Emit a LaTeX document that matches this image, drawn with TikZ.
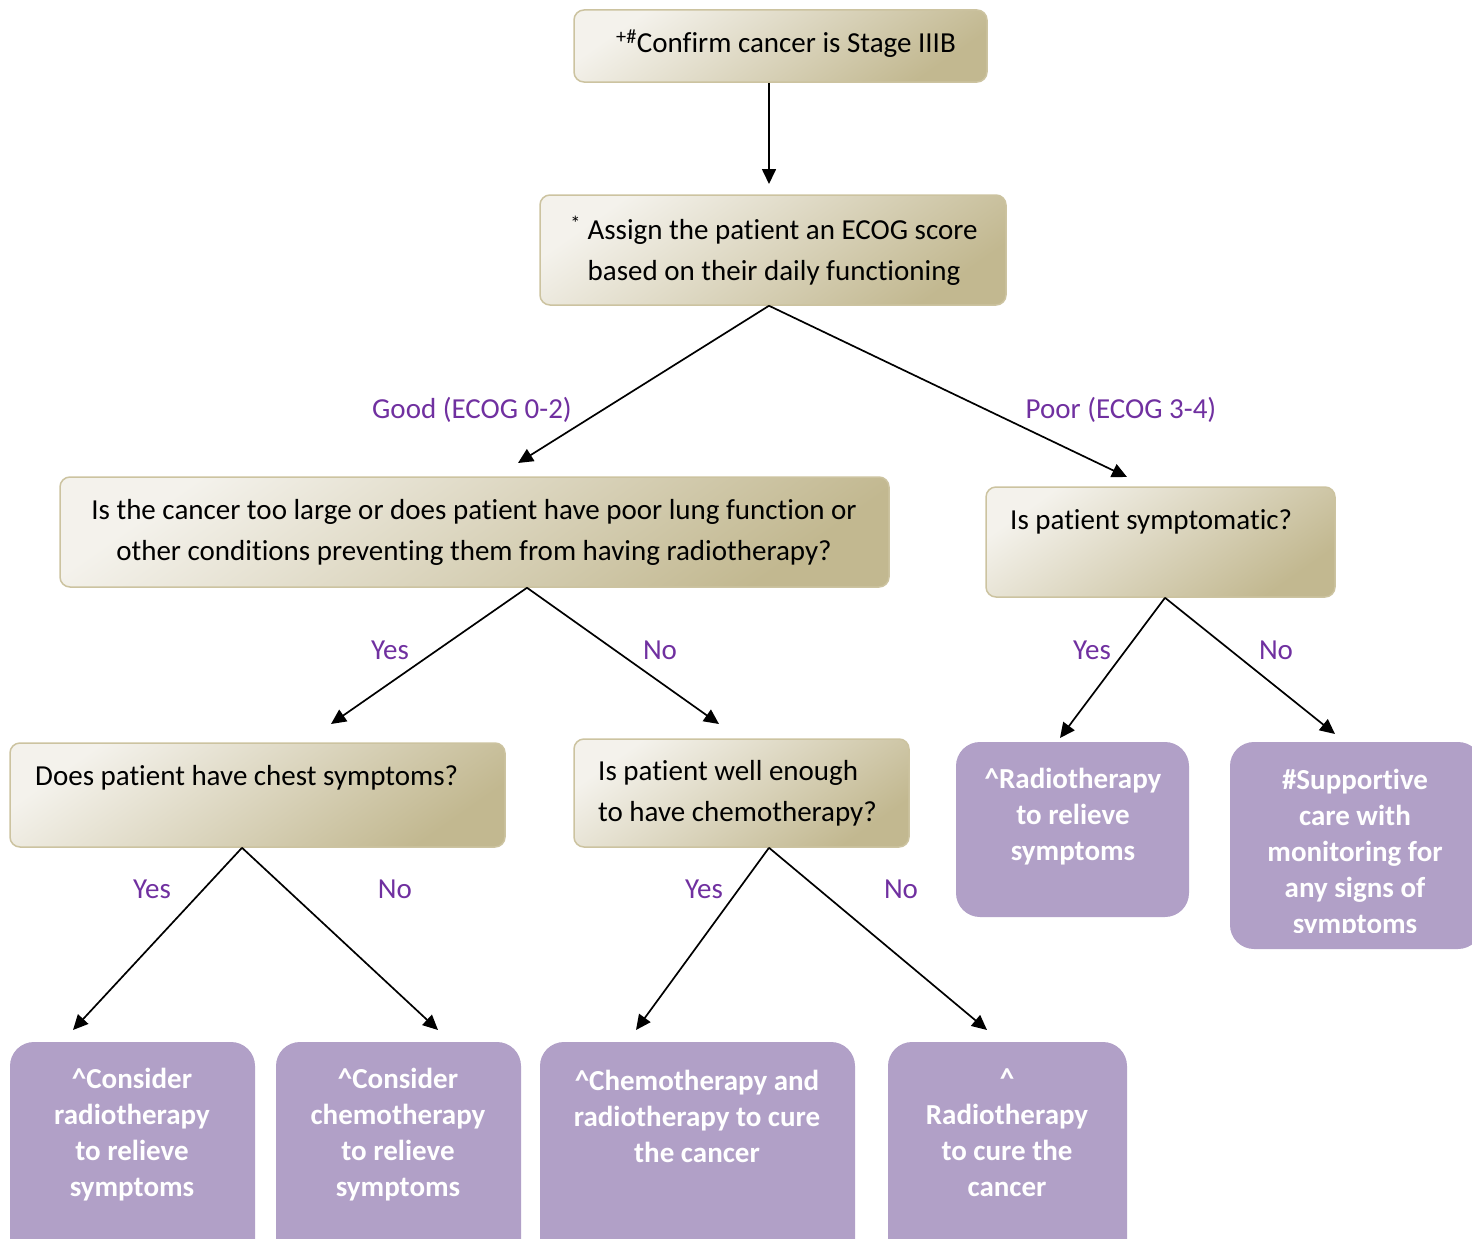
\documentclass[tikz,border=0pt]{standalone}
\usepackage{fontspec}
\setmainfont[Ligatures=NoCommon]{Carlito}
\usetikzlibrary{arrows.meta,calc}
\definecolor{bLight}{HTML}{F4F2EC}
\definecolor{bDark}{HTML}{C2B890}
\definecolor{bBorder}{HTML}{CCC3A0}
\definecolor{purp}{HTML}{B1A0C7}
\definecolor{labpurple}{HTML}{7030A0}
\tikzset{
  qbox/.style={draw=bBorder, line width=1.5pt, rounded corners=10pt,
    top color=bLight, bottom color=bDark, shading angle=35, inner sep=0pt},
  abox/.style={fill=purp, draw=none, rounded corners=24pt, inner sep=0pt},
  txt/.style={font=\fontsize{29}{41}\selectfont, inner sep=0pt, text=black},
  ptxt/.style={font=\fontsize{29}{36}\selectfont\bfseries, text=white, align=center, inner sep=0pt},
  lbl/.style={font=\fontsize{29}{41}\selectfont, text=labpurple, inner sep=0pt},
  conn/.style={line width=1.7pt, -{Triangle[length=15pt,width=14pt]}}
}
\begin{document}
\begin{tikzpicture}[x=1pt,y=-1pt]
\useasboundingbox (0,0) rectangle (1472,1239);

% question boxes
\node[qbox, minimum width=413pt, minimum height=72pt] (top) at (780.5,46) {};
\node[qbox, minimum width=466pt, minimum height=110pt] (ecog) at (773,250) {};
\node[qbox, minimum width=829pt, minimum height=110pt] (large) at (474.5,532) {};
\node[qbox, minimum width=349pt, minimum height=110pt] (symp) at (1160.5,542) {};
\node[qbox, minimum width=495pt, minimum height=104pt] (chest) at (257.5,795) {};
\node[qbox, minimum width=335pt, minimum height=108pt] (well) at (741.5,793) {};

% answer boxes
\node[abox, minimum width=233pt, minimum height=175pt] (rrel) at (1072.5,829.5) {};
\node[abox, minimum width=252pt, minimum height=207pt] (supp) at (1356,845.5) {};
\node[abox, minimum width=245pt, minimum height=228pt] (crad) at (132.5,1156) {};
\node[abox, minimum width=245pt, minimum height=228pt] (cchem) at (398.5,1156) {};
\node[abox, minimum width=315pt, minimum height=228pt] (chrad) at (697.5,1156) {};
\node[abox, minimum width=239pt, minimum height=228pt] (rcure) at (1007.5,1156) {};

% texts in question boxes
\node[txt] (ttop) at (786,44) {\textsuperscript{+\#}Confirm cancer is Stage IIIB};
\node[txt, align=center] (tecog) at (774,250.5) {\textsuperscript{*} Assign the patient an ECOG score\\based on their daily functioning};
\node[txt, align=center] (tlarge) at (474,532.5) {Is the cancer too large or does patient have poor lung function or\\other conditions preventing them from having radiotherapy?};
\node[txt, anchor=west] (tsymp) at (1010,522) {Is patient symptomatic?};
\node[txt, anchor=west] (tchest) at (35,778) {Does patient have chest symptoms?};
\node[txt, anchor=west, align=left] (twell) at (598,793.5) {Is patient well enough\\to have chemotherapy?};

% texts in answer boxes
\node[ptxt] (trrel) at (1073,817) {\textasciicircum Radiotherapy\\to relieve\\symptoms};
\begin{scope}
\clip (1230,742) rectangle (1472,932);
\node[ptxt] (tsupp) at (1355,854) {\#Supportive\\care with\\monitoring for\\any signs of\\symptoms};
\end{scope}
\node[ptxt] (tcrad) at (132,1135) {\textasciicircum Consider\\radiotherapy\\to relieve\\symptoms};
\node[ptxt] (tcchem) at (398,1135) {\textasciicircum Consider\\chemotherapy\\to relieve\\symptoms};
\node[ptxt] (tchrad) at (697,1116) {\textasciicircum Chemotherapy and\\radiotherapy to cure\\the cancer};
\node[ptxt] (trcure) at (1007,1133) {\textasciicircum\\Radiotherapy\\to cure the\\cancer};

% arrow end points
\coordinate (eEcog) at (769,184);
\coordinate (eGood) at (518,463);
\coordinate (ePoor) at (1127,477);
\coordinate (eLY) at (331,724);
\coordinate (eLN) at (719,724);
\coordinate (eSY) at (1060,738);
\coordinate (eSN) at (1335,734);
\coordinate (eCY) at (73,1030);
\coordinate (eCN) at (438,1030);
\coordinate (eWY) at (636,1030);
\coordinate (eWN) at (987,1030);

% connectors
\draw[conn] ([xshift=-11.5pt]top.south) -- (eEcog);
\draw[conn] ([xshift=-4pt]ecog.south) -- (eGood);
\draw[conn] ([xshift=-4pt]ecog.south) -- (ePoor);
\draw[conn] ([xshift=52.5pt]large.south) -- (eLY);
\draw[conn] ([xshift=52.5pt]large.south) -- (eLN);
\draw[conn] ([xshift=4.5pt]symp.south) -- (eSY);
\draw[conn] ([xshift=4.5pt]symp.south) -- (eSN);
\draw[conn] ([xshift=-15.5pt]chest.south) -- (eCY);
\draw[conn] ([xshift=-15.5pt]chest.south) -- (eCN);
\draw[conn] ([xshift=27.5pt]well.south) -- (eWY);
\draw[conn] ([xshift=27.5pt]well.south) -- (eWN);

% labels
\node[lbl] (lGood) at (472,410) {Good (ECOG 0-2)};
\node[lbl] (lPoor) at (1121,410) {Poor (ECOG 3-4)};
\node[lbl] (lLY) at (390,650) {Yes};
\node[lbl] (lLN) at (660,650) {No};
\node[lbl] (lSY) at (1092,650) {Yes};
\node[lbl] (lSN) at (1276,650) {No};
\node[lbl] (lCY) at (152,889) {Yes};
\node[lbl] (lCN) at (395,889) {No};
\node[lbl] (lWY) at (704,889) {Yes};
\node[lbl] (lWN) at (901,889) {No};
\end{tikzpicture}
\end{document}
